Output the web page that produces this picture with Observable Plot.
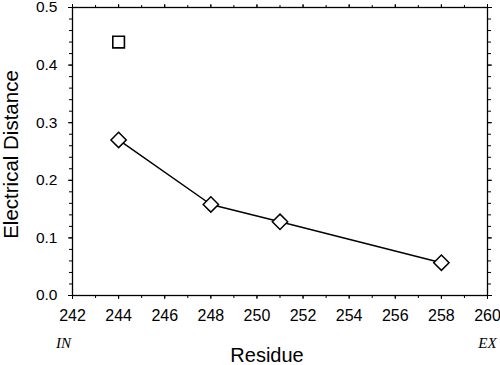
<!DOCTYPE html>
<html>
<head>
<meta charset="utf-8">
<script src="https://cdn.jsdelivr.net/npm/d3@7"></script>
<script src="https://cdn.jsdelivr.net/npm/@observablehq/plot@0.6"></script>
<style>
  body { margin: 0; background: #fff; }
  svg { font-family: "Liberation Sans", Arial, sans-serif; }
</style>
</head>
<body>
<div id="chart"></div>
<script>
const residues = [244, 248, 251, 258];
const distances = [0.27, 0.158, 0.128, 0.057];
const squareResidues = [244];
const squareDistances = [0.44];
const xTicks = [242, 244, 246, 248, 250, 252, 254, 256, 258, 260];
const xMinorTicks = d3.range(242, 261, 1);
const yTicks = [0, 0.1, 0.2, 0.3, 0.4, 0.5];
const yMinorTicks = d3.range(0, 0.501, 0.02);

const diamonds = residues.map((r, i) => ({residue: r, distance: distances[i]}));
const squares = squareResidues.map((r, i) => ({residue: r, distance: squareDistances[i]}));
const blank = () => "";

const chart = Plot.plot({
  width: 500,
  height: 365,
  marginLeft: 72,
  marginRight: 13,
  marginTop: 7,
  marginBottom: 70,
  style: {fontSize: "15px", fontFamily: "Liberation Sans, Arial, sans-serif", background: "#fff"},
  x: {domain: [242, 260]},
  y: {domain: [0, 0.5]},
  marks: [
    Plot.frame({stroke: "#000", strokeWidth: 1.3}),
    // bottom axis
    Plot.axisX({anchor: "bottom", ticks: xMinorTicks, tickSize: 3, tickFormat: blank, label: null, stroke: "#000"}),
    Plot.axisX({anchor: "bottom", ticks: xTicks, tickSize: 4, tickPadding: 10, tickFormat: d => d, label: null, fill: "#000", stroke: "#000", fontSize: 16}),
    // top axis
    Plot.axisX({anchor: "top", ticks: xMinorTicks, tickSize: 3, tickFormat: blank, label: null, stroke: "#000"}),
    Plot.axisX({anchor: "top", ticks: xTicks, tickSize: 4, tickFormat: blank, label: null, stroke: "#000"}),
    // left axis
    Plot.axisY({anchor: "left", ticks: yMinorTicks, tickSize: 3, tickFormat: blank, label: null, stroke: "#000"}),
    Plot.axisY({anchor: "left", ticks: yTicks, tickSize: 4, tickPadding: 11, tickFormat: ".1f", label: null, fill: "#000", stroke: "#000", fontSize: 15.5}),
    // right axis
    Plot.axisY({anchor: "right", ticks: yMinorTicks, tickSize: 3, tickFormat: blank, label: null, stroke: "#000"}),
    Plot.axisY({anchor: "right", ticks: yTicks, tickSize: 4, tickFormat: blank, label: null, stroke: "#000"}),
    // data
    Plot.line(diamonds, {x: "residue", y: "distance", stroke: "#000", strokeWidth: 1.5}),
    Plot.dot(diamonds, {x: "residue", y: "distance", symbol: "diamond2", r: 6.9, stroke: "#000", fill: "#fff", strokeWidth: 1.5}),
    Plot.dot(squares, {x: "residue", y: "distance", symbol: "square2", r: 7.4, stroke: "#000", fill: "#fff", strokeWidth: 1.6}),
    // axis titles
    Plot.text(["Electrical Distance"], {frameAnchor: "left", text: d => d, rotate: -90, dx: -61, dy: 3, textAnchor: "middle", lineAnchor: "middle", fontSize: 20.5, fill: "#000"}),
    Plot.text(["Residue"], {frameAnchor: "bottom", text: d => d, dx: -13, dy: 60, textAnchor: "middle", lineAnchor: "middle", fontSize: 20, fill: "#000"}),
    Plot.text(["IN"], {frameAnchor: "bottom-left", text: d => d, dx: -9, dy: 47.5, textAnchor: "middle", lineAnchor: "middle", fontSize: 15, fontStyle: "italic", fontFamily: "Liberation Serif, Times New Roman, serif", fill: "#000"}),
    Plot.text(["EX"], {frameAnchor: "bottom-right", text: d => d, dx: 0, dy: 48, textAnchor: "middle", lineAnchor: "middle", fontSize: 15, fontStyle: "italic", fontFamily: "Liberation Serif, Times New Roman, serif", fill: "#000"})
  ]
});
document.getElementById("chart").appendChild(chart);
</script>
</body>
</html>
